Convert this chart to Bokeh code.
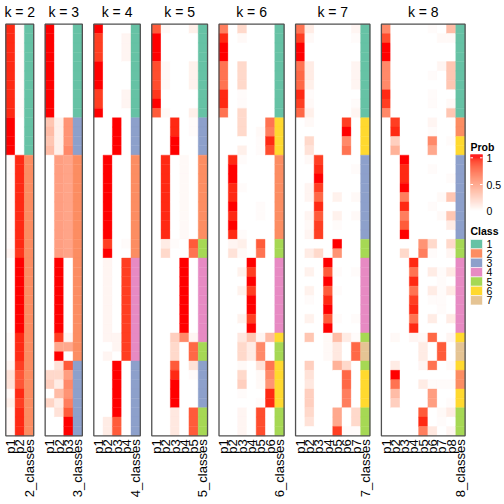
import math
from bokeh.plotting import figure
from bokeh.models import ColumnDataSource, Range1d
from bokeh.embed import file_html
from bokeh.resources import INLINE
from bokeh.core.properties import value

# ---------------- data (membership probabilities, 44 samples) ----------------
K2_P1 = [0.95,0.95,0.95,0.95,0.95,0.95,0.95,0.95,0.95,0.95,
         1,1,1,1,0.02,0.02,0.02,0.02,0.02,0.02,
         0.02,0.02,0.02,0.02,0.05,0,0,0,0,0,
         0,0,0,0.02,0.02,0.02,0.05,0.15,0.15,0.03,
         0.08,0.03,0.03,0.03]
K2_P2 = [0.02,0.02,0.02,0.02,0.02,0.02,0.02,0.02,0.02,0.02,
         0,0,0,0,0.95,0.95,0.95,0.95,0.95,0.95,
         0.95,0.95,0.95,0.95,0.92,1,1,1,1,1,
         1,1,1,0.95,0.95,0.95,0.9,0.82,0.82,0.95,
         0.9,0.95,0.95,0.95]
K2_CL = [1,1,1,1,1,1,1,1,1,1,
         1,1,1,1,2,2,2,2,2,2,
         2,2,2,2,2,2,2,2,2,2,
         2,2,2,2,2,2,2,2,2,2,
         2,2,2,2]

K3_P1 = [1,1,1,1,1,1,1,1,1,1,
         0.3,0.35,0.3,0.35,0,0,0,0,0,0,
         0,0,0,0,0,0,0,0,0,0,
         0,0,0,0,0,0,0,0.2,0.25,0,
         0.22,0,0,0]
K3_P2 = [0,0,0,0,0,0,0,0,0,0,
         0.08,0.08,0.08,0.08,0.5,0.5,0.5,0.5,0.5,0.5,
         0.5,0.5,0.5,0.5,0.5,1,1,1,1,1,
         1,1,1,0.9,0.45,1,0.15,0.2,0.1,0.35,
         0.1,0.15,0,0]
K3_P3 = [0,0,0,0,0,0,0,0,0,0,
         0.55,0.55,0.55,0.6,0.47,0.47,0.47,0.47,0.47,0.47,
         0.47,0.47,0.47,0.47,0.47,0,0,0,0,0,
         0,0,0,0.05,0.45,0,0.8,0.5,0.6,0.55,
         0.65,0.8,1,1]
K3_CL = [1,1,1,1,1,1,1,1,1,1,
         3,3,3,3,2,2,2,2,2,2,
         2,2,2,2,2,2,2,2,2,2,
         2,2,2,2,2,2,3,3,3,3,
         3,3,3,3]

K4_P1 = [1,0.9,0.9,0.9,1,1,1,0.9,0.9,1,
         0,0,0,0,0,0,0,0,0,0,
         0,0,0,0,0,0,0,0,0,0,
         0,0,0,0,0,0,0,0,0,0,
         0,0,0,0]
K4_P2 = [0,0,0,0,0,0,0,0,0,0,
         0,0,0,0,1,1,1,1,1,1,
         1,1,1,0.9,1,0.05,0.05,0.05,0.05,0.05,
         0.05,0.05,0.05,0.05,0,0.05,0,0,0,0,
         0,0,0.1,0.1]
K4_P3 = [0,0,0,0,0,0,0,0,0,0,
         1,1,1,1,0,0,0,0,0,0,
         0,0,0,0,0,0,0,0,0,0,
         0,0,0,0.05,0.05,0,1,1,1,1,
         1,1,0.8,0.8]
K4_P4 = [0,0.05,0.05,0.05,0,0,0,0.05,0.05,0,
         0,0,0,0,0,0,0,0,0,0,
         0,0,0,0.02,0,0.9,0.9,0.9,0.9,0.9,
         0.9,0.9,0.9,0.9,0.9,0.9,0,0,0,0,
         0,0,0,0]
K4_CL = [1,1,1,1,1,1,1,1,1,1,
         3,3,3,3,2,2,2,2,2,2,
         2,2,2,2,2,4,4,4,4,4,
         4,4,4,4,4,4,3,3,3,3,
         3,3,3,3]

K5_P1 = [0.8,1,1,1,0.85,0.85,0.85,0.92,1,0.8,
         0,0,0,0,0,0,0,0,0,0,
         0,0,0,0,0,0,0,0,0,0,
         0,0,0,0,0,0,0,0,0,0,
         0,0,0,0]
K5_P2 = [0.03,0,0,0,0.03,0.03,0.03,0,0,0.03,
         0,0,0,0,0.95,0.95,0.95,0.95,0.95,0.95,
         0.95,0.95,0.95,0.1,0.2,0,0,0,0,0,
         0,0,0,0,0,0,0,0,0,0,
         0,0,0,0]
K5_P3 = [0,0,0,0,0,0,0,0,0,0,
         0.95,0.95,1,1,0,0,0,0,0,0,
         0,0,0,0.02,0,0,0,0,0,0,
         0,0,0,0.25,0.2,0.2,0.8,0.95,1,1,
         1,0.12,0.12,0.12]
K5_P4 = [0,0,0,0,0,0,0,0,0,0,
         0,0,0,0,0.03,0.03,0.03,0.03,0.03,0.03,
         0.03,0.03,0.03,0,0,1,1,1,1,1,
         1,1,1,0.6,0,0,0,0,0,0,
         0,0,0,0]
K5_P5 = [0.08,0,0,0,0.07,0.07,0.07,0,0,0.08,
         0.02,0.02,0,0,0,0,0,0,0,0,
         0,0,0,0.8,0.7,0,0,0,0,0,
         0,0,0,0.05,0.75,0.75,0.15,0.02,0,0,
         0,0.8,0.8,0.8]
K5_CL = [1,1,1,1,1,1,1,1,1,1,
         3,3,3,3,2,2,2,2,2,2,
         2,2,2,5,5,4,4,4,4,4,
         4,4,4,4,5,5,3,3,3,3,
         3,5,5,5]

K6_P1 = [0.65,0.95,1,1,0.7,0.7,0.7,0.95,0.95,0.7,
         0,0,0,0,0,0,0,0,0,0,
         0,0,0,0,0,0,0,0,0,0,
         0,0,0,0,0,0,0,0,0,0,
         0,0,0,0]
K6_P2 = [0,0,0,0,0,0,0,0,0,0,
         0,0,0,0,0.95,1,1,0.95,0.95,1,
         0.95,1,0.95,0.05,0.15,0,0,0,0,0,
         0,0,0,0,0,0,0,0,0,0,
         0,0,0,0]
K6_P3 = [0.2,0.03,0,0,0.2,0.2,0.2,0.02,0.02,0.2,
         0.2,0.2,0,0.08,0.02,0,0,0.02,0,0,
         0,0,0.02,0.08,0.03,0,0.07,0,0.07,0,
         0,0.07,0,0.12,0.2,0.2,0.03,0.2,0.25,0.02,
         0,0.05,0.05,0.05]
K6_P4 = [0,0,0,0,0,0,0,0,0,0,
         0,0,0,0,0,0,0,0,0,0,
         0,0,0,0,0,1,0.9,1,0.9,1,
         1,0.9,1,0.3,0.1,0.1,0,0,0,0,
         0,0,0,0]
K6_P5 = [0,0,0,0,0,0,0,0,0,0,
         0,0.03,0.02,0.02,0,0,0,0,0,0.02,
         0.02,0,0,0.8,0.7,0,0,0,0,0,
         0,0,0,0.05,0.6,0.6,0.15,0.03,0.03,0,
         0.02,0.85,0.85,0.85]
K6_P6 = [0,0,0,0,0,0,0,0,0,0,
         0.7,0.65,0.95,0.85,0,0,0,0,0,0,
         0,0,0,0,0,0,0,0,0,0,
         0,0,0,0.35,0,0,0.7,0.6,0.55,0.95,
         0.95,0,0,0]
K6_CL = [1,1,1,1,1,1,1,1,1,1,
         6,6,6,6,2,2,2,2,2,2,
         2,2,2,5,5,4,4,4,4,4,
         4,4,4,6,5,5,6,6,6,6,
         6,5,5,5]

K7_P1 = [0.7,0.9,1,1,0.7,0.75,0.75,0.95,0.9,0.75,
         0,0,0,0,0,0,0,0,0,0,
         0,0,0,0,0,0,0,0,0,0,
         0,0,0,0,0,0,0,0,0,0,
         0,0,0,0]
K7_P2 = [0.1,0.03,0,0,0.1,0.1,0.08,0.02,0.03,0.08,
         0.03,0,0.2,0.15,0.03,0,0,0.05,0.05,0,
         0.05,0.03,0.05,0,0.1,0,0.07,0,0.07,0.02,
         0,0.07,0,0.3,0,0,0.25,0.15,0.12,0.25,
         0.25,0.2,0.15,0]
K7_P3 = [0,0,0,0,0,0,0,0,0,0,
         0,0,0,0,0.9,0.95,1,0.9,0.75,0.95,
         0.8,0.9,0.9,0,0.2,0,0,0,0,0,
         0,0,0,0,0,0,0,0,0,0,
         0,0,0,0]
K7_P4 = [0,0,0,0,0,0,0,0,0,0,
         0,0,0,0,0,0,0,0,0,0,
         0,0,0,0,0,1,0.8,1,0.8,0.95,
         1,0.8,1,0.03,0.03,0.03,0,0,0,0,
         0,0,0,0]
K7_P5 = [0,0,0,0,0,0,0,0,0,0,
         0,0,0,0,0,0,0,0,0.07,0,
         0.07,0.02,0,1,0.55,0,0.02,0,0.02,0,
         0,0.02,0,0.35,0.12,0.12,0.4,0,0,0,
         0,0.45,0.45,0.9]
K7_P6 = [0,0,0,0,0,0,0,0,0,0,
         0.9,1,0.6,0.7,0,0,0,0,0,0,
         0,0,0,0,0,0,0,0,0,0,
         0,0,0,0.1,0,0,0.2,0.75,0.75,0.65,
         0.65,0,0,0.02]
K7_P7 = [0.05,0.02,0,0,0.05,0.05,0.05,0,0.02,0.05,
         0,0,0,0,0,0.02,0,0,0.03,0,
         0.03,0,0,0,0,0,0.02,0,0,0,
         0,0.02,0,0.02,0.75,0.75,0,0,0,0,
         0,0.2,0.2,0.02]
K7_CL = [1,1,1,1,1,1,1,1,1,1,
         6,6,6,6,3,3,3,3,3,3,
         3,3,3,5,5,4,4,4,4,4,
         4,4,4,5,7,7,5,6,6,6,
         6,5,5,5]

K8_P1 = [0.6,0.85,1,1,0.6,0.6,0.6,0.95,0.9,0.6,
         0,0,0,0,0,0,0,0,0,0,
         0,0,0,0,0,0,0,0,0,0,
         0,0,0,0,0,0,0,0,0,0,
         0,0,0,0]
K8_P2 = [0,0,0,0,0,0,0,0,0,0,
         0.9,0.95,0.25,0.4,0,0,0,0,0,0,
         0,0,0,0,0,0,0,0,0,0,
         0,0,0,0.03,0,0,0.1,1,0.7,0.35,
         0.25,0,0,0]
K8_P3 = [0,0,0,0,0,0,0,0,0,0,
         0,0,0,0,1,0.95,0.95,1,0.65,0.95,
         0.65,0.8,1,0,0.2,0,0,0,0,0,
         0,0,0,0,0,0,0,0,0,0,
         0,0,0,0]
K8_P4 = [0,0,0,0,0,0,0,0,0,0,
         0,0,0,0,0,0,0,0,0,0,
         0,0,0,0,0,0.95,0.7,0.95,0.7,0.9,
         0.95,0.7,0.95,0.05,0,0,0,0,0,0,
         0,0,0,0]
K8_P5 = [0,0,0,0,0,0,0,0,0,0,
         0,0,0,0,0,0,0,0,0,0,
         0,0,0,0.55,0.65,0,0,0,0,0,
         0,0,0,0.03,0.1,0.1,0.05,0,0.1,0,
         0,0.8,0.95,0.65]
K8_P6 = [0.02,0,0,0,0,0.02,0,0.02,0.02,0,
         0.05,0.02,0.6,0.45,0,0.02,0,0,0,0.02,
         0,0,0,0.2,0.02,0,0.1,0,0.1,0.02,
         0,0.1,0,0.75,0,0,0.7,0,0.02,0.5,
         0.5,0,0,0.12]
K8_P7 = [0,0.03,0,0,0.05,0,0,0,0,0,
         0,0,0,0,0,0,0,0,0.03,0,
         0.03,0,0,0,0,0,0.02,0.02,0.02,0.02,
         0.02,0,0,0,0.8,0.8,0,0,0.02,0,
         0,0.03,0.02,0]
K8_P8 = [0.35,0.03,0,0,0.3,0.3,0.3,0,0.03,0.3,
         0,0,0.02,0,0,0,0.02,0,0.3,0,
         0.3,0.1,0,0.2,0.05,0,0.1,0,0.1,0,
         0,0.1,0,0.05,0,0,0.03,0,0.02,0,
         0.02,0.1,0,0.05]
K8_CL = [1,1,1,1,1,1,1,1,1,1,
         2,2,6,6,3,3,3,3,3,3,
         3,3,3,5,5,4,4,4,4,4,
         4,4,4,6,7,7,6,2,2,6,
         6,5,5,5]

PANEL_K = [2, 3, 4, 5, 6, 7, 8]
PANEL_PROBS = [[K2_P1, K2_P2],
               [K3_P1, K3_P2, K3_P3],
               [K4_P1, K4_P2, K4_P3, K4_P4],
               [K5_P1, K5_P2, K5_P3, K5_P4, K5_P5],
               [K6_P1, K6_P2, K6_P3, K6_P4, K6_P5, K6_P6],
               [K7_P1, K7_P2, K7_P3, K7_P4, K7_P5, K7_P6, K7_P7],
               [K8_P1, K8_P2, K8_P3, K8_P4, K8_P5, K8_P6, K8_P7, K8_P8]]
PANEL_CLASSES = [K2_CL, K3_CL, K4_CL, K5_CL, K6_CL, K7_CL, K8_CL]

CLASS_LABELS = ["1", "2", "3", "4", "5", "6", "7"]
CLASS_COLORS = ["#66C2A5", "#FC8D62", "#8DA0CB", "#E78AC3", "#A6D854", "#FFD92F", "#E5C494"]
PROB_TICKS = [0, 0.5, 1]
PROB_TICK_LABELS = ["0", "0.5", "1"]

# ---------------- colour ramp white -> red in LAB ----------------
def _lin(c):
    c = c / 255.0
    return c / 12.92 if c <= 0.04045 else ((c + 0.055) / 1.055) ** 2.4

def _gam(c):
    c = 12.92 * c if c <= 0.0031308 else 1.055 * c ** (1 / 2.4) - 0.055
    return max(0, min(255, round(c * 255)))

_XN, _YN, _ZN = 0.95047, 1.0, 1.08883

def _f(t):
    d = 6 / 29
    return t ** (1 / 3) if t > d ** 3 else t / (3 * d * d) + 4 / 29

def _finv(t):
    d = 6 / 29
    return t ** 3 if t > d else 3 * d * d * (t - 4 / 29)

def rgb2lab(h):
    r, g, b = (_lin(int(h[i:i + 2], 16)) for i in (1, 3, 5))
    X = 0.4124564 * r + 0.3575761 * g + 0.1804375 * b
    Y = 0.2126729 * r + 0.7151522 * g + 0.0721750 * b
    Z = 0.0193339 * r + 0.1191920 * g + 0.9503041 * b
    fx, fy, fz = _f(X / _XN), _f(Y / _YN), _f(Z / _ZN)
    return 116 * fy - 16, 500 * (fx - fy), 200 * (fy - fz)

def lab2hex(L, a, b):
    fy = (L + 16) / 116
    fx = fy + a / 500
    fz = fy - b / 200
    X, Y, Z = _XN * _finv(fx), _YN * _finv(fy), _ZN * _finv(fz)
    r = 3.2404542 * X - 1.5371385 * Y - 0.4985314 * Z
    g = -0.9692660 * X + 1.8760108 * Y + 0.0415560 * Z
    bb = 0.0556434 * X - 0.2040259 * Y + 1.0572252 * Z
    return "#%02x%02x%02x" % (_gam(r), _gam(g), _gam(bb))

LAB_LO = rgb2lab("#ffffff")
LAB_HI = rgb2lab("#ff0000")

def prob_color(v):
    v = max(0.0, min(1.0, v))
    return lab2hex(*[lo + (hi - lo) * v for lo, hi in zip(LAB_LO, LAB_HI)])

# ---------------- layout ----------------
W = H = 504
CW = 9.3        # cell width
RH = 9.355      # row height
GAP = 11.45     # gap between panels
X0 = 5.3
TOP = 23.7
N = len(K2_CL)
BOTTOM = TOP + N * RH

p = figure(width=W, height=H, x_range=Range1d(0, W), y_range=Range1d(H, 0),
           output_backend="svg", toolbar_location=None, min_border=0,
           x_axis_location=None, y_axis_location=None)
p.grid.visible = False
p.outline_line_color = None
p.background_fill_color = "white"

cells = dict(left=[], right=[], top=[], bottom=[], color=[])
frames = dict(left=[], right=[], top=[], bottom=[])
titles = dict(x=[], y=[], text=[])
labels = dict(x=[], y=[], text=[])

x = X0
for k, probs, cls in zip(PANEL_K, PANEL_PROBS, PANEL_CLASSES):
    columns = [[prob_color(v) for v in col] for col in probs]
    columns.append([CLASS_COLORS[c - 1] for c in cls])
    names = ["p%d" % (i + 1) for i in range(len(probs))] + ["%d_classes" % k]
    for j, col in enumerate(columns):
        for r, c in enumerate(col):
            cells["left"].append(x + j * CW)
            cells["right"].append(x + (j + 1) * CW)
            cells["top"].append(TOP + r * RH)
            cells["bottom"].append(TOP + (r + 1) * RH)
            cells["color"].append(c)
        labels["x"].append(x + (j + 0.5) * CW)
        labels["y"].append(BOTTOM + 3.5)
        labels["text"].append(names[j])
    wpanel = len(columns) * CW
    frames["left"].append(x)
    frames["right"].append(x + wpanel)
    frames["top"].append(TOP)
    frames["bottom"].append(BOTTOM)
    titles["x"].append(x + wpanel / 2)
    titles["y"].append(11.5)
    titles["text"].append("k = %d" % k)
    x += wpanel + GAP

p.quad(left="left", right="right", top="top", bottom="bottom", source=ColumnDataSource(cells),
       fill_color="color", line_color="color", line_width=0.4)
p.quad(left="left", right="right", top="top", bottom="bottom", source=ColumnDataSource(frames),
       fill_color=None, line_color="#505050", line_width=1.3)
p.text(x="x", y="y", text="text", source=ColumnDataSource(titles),
       text_font=value("Liberation Sans"), text_font_size="14px", text_color="black",
       text_align="center", text_baseline="middle")
p.text(x="x", y="y", text="text", source=ColumnDataSource(labels), angle=math.pi / 2,
       text_font=value("Liberation Sans"), text_font_size="13px", text_color="black",
       text_align="right", text_baseline="middle")

# ---------------- legends ----------------
LX = 470
LW = 12
# Prob colour bar
Y1, Y0 = 157.3, 210.7   # positions of value 1 and value 0
grad = dict(left=[], right=[], top=[], bottom=[], color=[])
yy = 154.0
while yy < 213.5:
    v = (Y0 - (yy + 0.5)) / (Y0 - Y1)
    grad["left"].append(LX); grad["right"].append(LX + LW)
    grad["top"].append(yy); grad["bottom"].append(yy + 1.0)
    grad["color"].append(prob_color(v))
    yy += 1.0
p.quad(left="left", right="right", top="top", bottom="bottom", source=ColumnDataSource(grad),
       fill_color="color", line_color="color", line_width=0.3)
tick_y = [Y0 - t * (Y0 - Y1) for t in PROB_TICKS]
p.segment(x0=[LX] * 3 + [LX + LW - 2.5] * 3, x1=[LX + 2.5] * 3 + [LX + LW] * 3,
          y0=tick_y + tick_y, y1=tick_y + tick_y, line_color="white", line_width=1)
p.text(x=[LX + 16] * 3, y=tick_y, text=PROB_TICK_LABELS,
       text_font=value("Liberation Sans"), text_font_size="10.5px", text_color="black",
       text_align="left", text_baseline="middle")
p.text(x=[LX], y=[146], text=["Prob"], text_font=value("Liberation Sans"),
       text_font_size="10.5px", text_font_style="bold", text_color="black",
       text_align="left", text_baseline="middle")

# Class legend
CY = 239.0
SH = 9.35
sw = dict(left=[], right=[], top=[], bottom=[], color=[])
for i, c in enumerate(CLASS_COLORS):
    sw["left"].append(LX); sw["right"].append(LX + LW)
    sw["top"].append(CY + i * SH); sw["bottom"].append(CY + (i + 1) * SH)
    sw["color"].append(c)
p.quad(left="left", right="right", top="top", bottom="bottom", source=ColumnDataSource(sw),
       fill_color="color", line_color="white", line_width=0.6)
p.text(x=[LX + 16] * len(CLASS_LABELS), y=[CY + (i + 0.5) * SH for i in range(len(CLASS_LABELS))],
       text=CLASS_LABELS, text_font=value("Liberation Sans"), text_font_size="10.5px",
       text_color="black", text_align="left", text_baseline="middle")
p.text(x=[LX], y=[230], text=["Class"], text_font=value("Liberation Sans"),
       text_font_size="10.5px", text_font_style="bold", text_color="black",
       text_align="left", text_baseline="middle")

open("out.html", "w").write(file_html(p, INLINE))
